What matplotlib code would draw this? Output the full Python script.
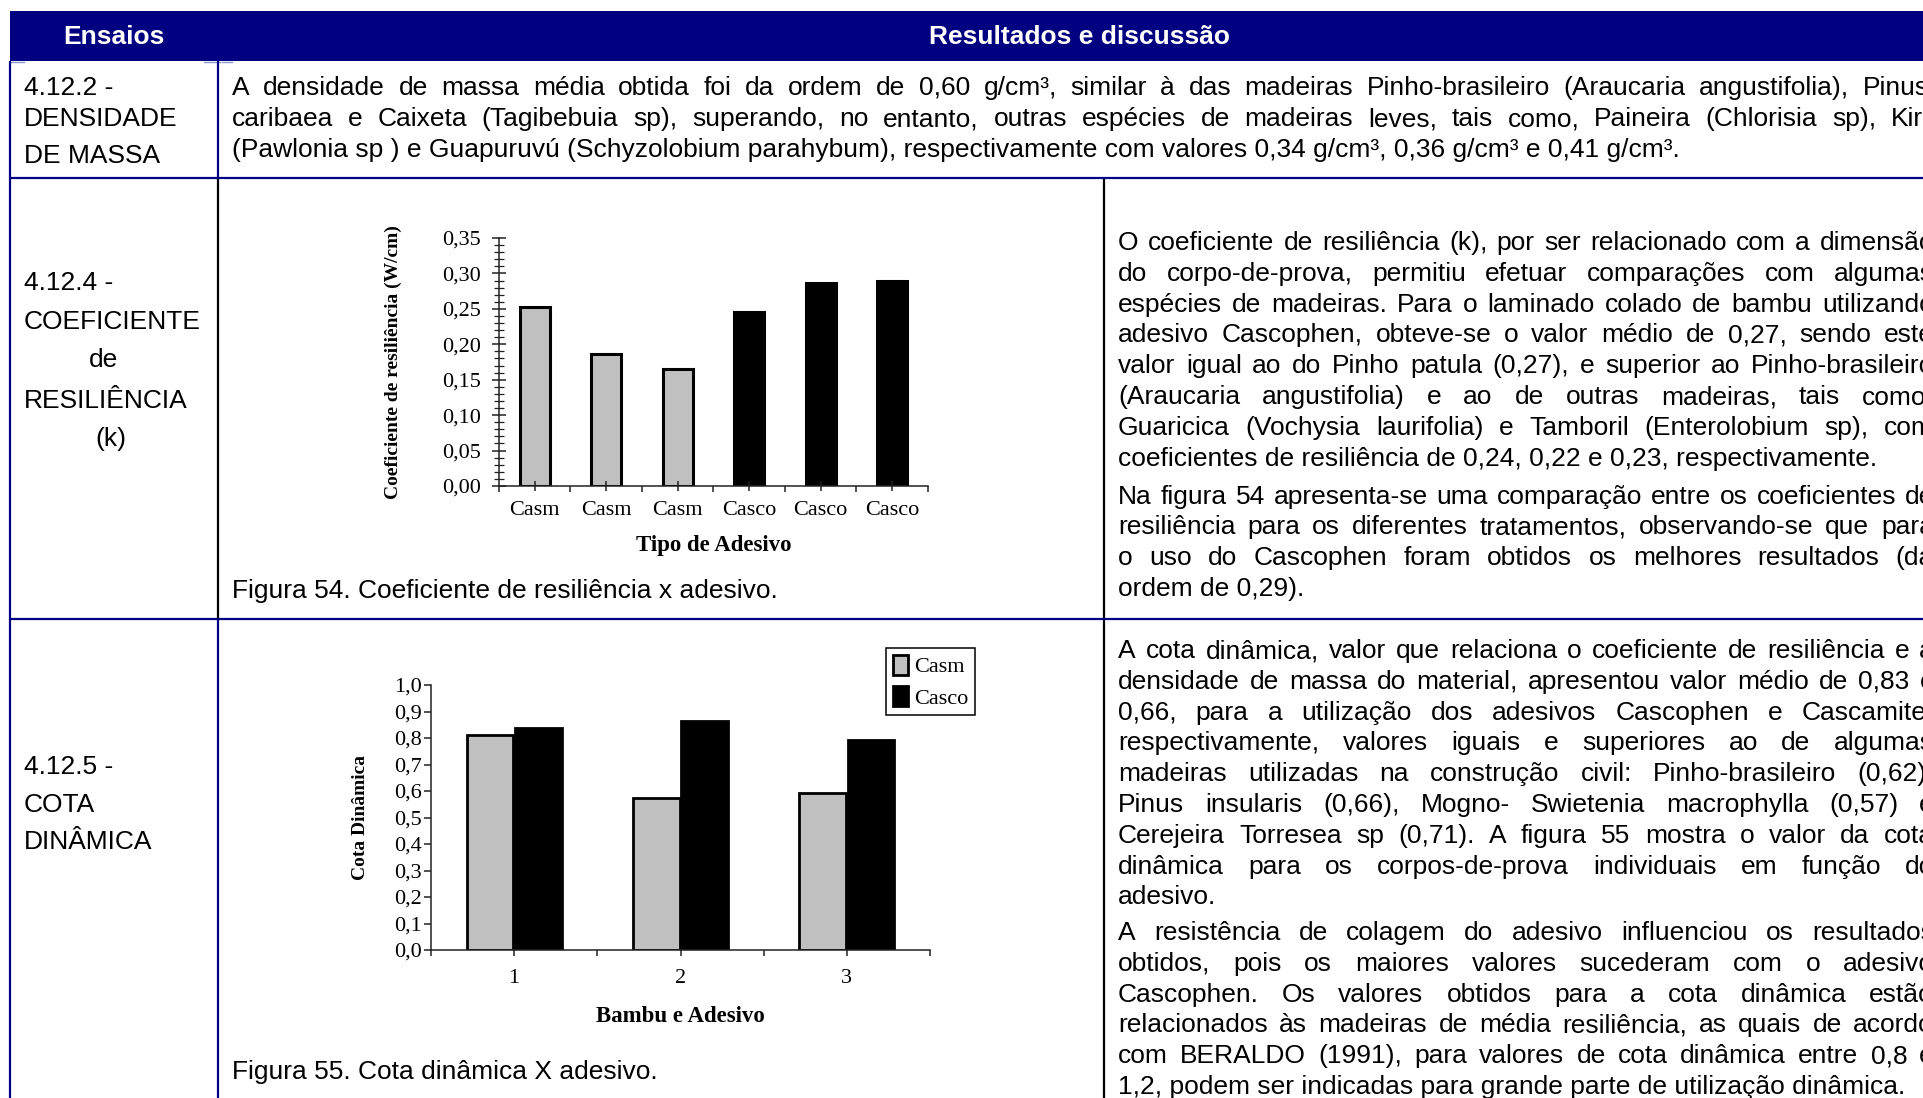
import matplotlib
matplotlib.use('Agg')
import matplotlib.pyplot as plt
from matplotlib.patches import Rectangle
from matplotlib.ticker import MultipleLocator, FuncFormatter
import numpy as np

# ---------------- data ----------------
# Figura 54: coeficiente de resiliencia por tipo de adesivo
adesivo_tipos = ['Casm', 'Casm', 'Casm', 'Casco', 'Casco', 'Casco']
coef_resiliencia = [0.253, 0.186, 0.165, 0.246, 0.287, 0.289]

# Figura 55: cota dinamica por bambu e adesivo
grupos = ['1', '2', '3']
cota_casm = [0.810, 0.572, 0.591]
cota_casco = [0.836, 0.863, 0.791]
serie_nomes = ['Casm', 'Casco']

header_labels = ['Ensaios', 'Resultados e discussão']

row1_left = ['4.12.2 -', 'DENSIDADE', 'DE MASSA']
row1_text = [
    'A densidade de massa média obtida foi da ordem de 0,60 g/cm³, similar à das madeiras Pinho-brasileiro (Araucaria angustifolia), Pinus',
    'caribaea e Caixeta (Tagibebuia sp), superando, no entanto, outras espécies de madeiras leves, tais como, Paineira (Chlorisia sp), Kiri',
    '(Pawlonia sp ) e Guapuruvú (Schyzolobium parahybum), respectivamente com valores 0,34 g/cm³, 0,36 g/cm³ e 0,41 g/cm³.',
]
row2_left = ['4.12.4 -', 'COEFICIENTE', 'de', 'RESILIÊNCIA', '(k)']
row2_p1 = [
    'O coeficiente de resiliência (k), por ser relacionado com a dimensão',
    'do corpo-de-prova, permitiu efetuar comparações com algumas',
    'espécies de madeiras. Para o laminado colado de bambu utilizando',
    'adesivo Cascophen, obteve-se o valor médio de 0,27, sendo este',
    'valor igual ao do Pinho patula (0,27), e superior ao Pinho-brasileiro',
    '(Araucaria angustifolia) e ao de outras madeiras, tais como,',
    'Guaricica (Vochysia laurifolia) e Tamboril (Enterolobium sp), com',
    'coeficientes de resiliência de 0,24, 0,22 e 0,23, respectivamente.',
]
row2_p2 = [
    'Na figura 54 apresenta-se uma comparação entre os coeficientes de',
    'resiliência para os diferentes tratamentos, observando-se que para',
    'o uso do Cascophen foram obtidos os melhores resultados (da',
    'ordem de 0,29).',
]
row3_left = ['4.12.5 -', 'COTA', 'DINÂMICA']
row3_p1 = [
    'A cota dinâmica, valor que relaciona o coeficiente de resiliência e a',
    'densidade de massa do material, apresentou valor médio de 0,83 e',
    '0,66, para a utilização dos adesivos Cascophen e Cascamite,',
    'respectivamente, valores iguais e superiores ao de algumas',
    'madeiras utilizadas na construção civil: Pinho-brasileiro (0,62),',
    'Pinus insularis (0,66), Mogno- Swietenia macrophylla (0,57) e',
    'Cerejeira Torresea sp (0,71). A figura 55 mostra o valor da cota',
    'dinâmica para os corpos-de-prova individuais em função do',
    'adesivo.',
]
row3_p2 = [
    'A resistência de colagem do adesivo influenciou os resultados',
    'obtidos, pois os maiores valores sucederam com o adesivo',
    'Cascophen. Os valores obtidos para a cota dinâmica estão',
    'relacionados às madeiras de média resiliência, as quais de acordo',
    'com BERALDO (1991), para valores de cota dinâmica entre 0,8 e',
    '1,2, podem ser indicadas para grande parte de utilização dinâmica.',
]
caption54 = 'Figura 54. Coeficiente de resiliência x adesivo.'
caption55 = 'Figura 55. Cota dinâmica X adesivo.'

# ---------------- styling ----------------
W, H = 1924, 1098
NAVY = '#000080'
GRAY = '#c0c0c0'
SANS = ['Liberation Sans', 'DejaVu Sans']
SERIF = ['Liberation Serif', 'DejaVu Serif']
FS = 19
LW = 1.6
TICKFS = 16

fig = plt.figure(figsize=(W / 100, H / 100), dpi=100)
ov = fig.add_axes([0, 0, 1, 1])
ov.set_xlim(0, W)
ov.set_ylim(H, 0)
ov.axis('off')
renderer = fig.canvas.get_renderer()

# header
ov.add_patch(Rectangle((10, 11), W - 10, 50, facecolor=NAVY, edgecolor='none'))
ov.text(114, 37, header_labels[0], color='white', fontsize=FS, fontweight='bold',
        family=SANS, ha='center', va='center')
ov.text(1080, 37, header_labels[1], color='white', fontsize=FS, fontweight='bold',
        family=SANS, ha='center', va='center')
for xa, xb in [(10, 24), (204, 220), (222, 232)]:
    ov.plot([xa, xb], [61.5, 61.5], color='#8a98cc', lw=1)

# table lines
def vline(x, y1, y2, c):
    ov.plot([x, x], [y1, y2], color=c, lw=LW, solid_capstyle='butt')

def hline(y, x1, x2, c):
    ov.plot([x1, x2], [y, y], color=c, lw=LW, solid_capstyle='butt')

vline(10, 61, H, NAVY)
vline(218, 61, 178, NAVY)
vline(218, 178, 619, 'black')
vline(218, 619, H, NAVY)
vline(1104, 178, H, 'black')
hline(178, 10, W, NAVY)
hline(619, 10, W, NAVY)

# text helpers
def text_line(x, y, s, ha='left'):
    return ov.text(x, y, s, fontsize=FS, family=SANS, ha=ha, va='baseline', color='black')

def paragraph(lines, x0, R, y0, dy):
    for i, line in enumerate(lines):
        y = y0 + i * dy
        if i == len(lines) - 1:
            text_line(x0, y, line)
            continue
        words = line.split(' ')
        ts = [text_line(0, y, w) for w in words]
        ws = [t.get_window_extent(renderer).width for t in ts]
        gap = (R - x0 - sum(ws)) / (len(words) - 1)
        x = x0
        for t, w in zip(ts, ws):
            t.set_x(x)
            x += w + gap

B = 9  # baseline offset from visual line centre
# row 1
for s, yc in zip(row1_left, [86, 117, 154]):
    text_line(24, yc + B, s)
paragraph(row1_text, 232, 1929, 86 + B, 31)
# row 2
for s, yc, xc in zip(row2_left, [281, 320, 358, 399, 437], [None, None, 104, None, 111]):
    if xc is None:
        text_line(24, yc + B, s)
    else:
        text_line(xc, yc + B, s, ha='center')
paragraph(row2_p1, 1118, 1934, 241 + B, 30.8)
paragraph(row2_p2, 1118, 1934, 494.6 + B, 30.8)
text_line(232, 589 + B, caption54)
# row 3
for s, yc in zip(row3_left, [765, 803, 840]):
    text_line(24, yc + B, s)
paragraph(row3_p1, 1118, 1934, 649 + B, 30.8)
paragraph(row3_p2, 1118, 1934, 931 + B, 30.8)
text_line(232, 1070 + B, caption55)

comma2 = FuncFormatter(lambda v, p: f'{v:.2f}'.replace('.', ','))
comma1 = FuncFormatter(lambda v, p: f'{v:.1f}'.replace('.', ','))

def fig_axes(x0, x1, ytop, ybot):
    a = fig.add_axes([x0 / W, 1 - ybot / H, (x1 - x0) / W, (ybot - ytop) / H])
    a.patch.set_alpha(0)
    for sp in ['top', 'right']:
        a.spines[sp].set_visible(False)
    for sp in ['left', 'bottom']:
        a.spines[sp].set_linewidth(1.1)
        a.spines[sp].set_color('#222222')
    return a

# ---------------- Figura 54 ----------------
ax1 = fig_axes(499, 928, 238, 486)
x1 = np.arange(len(adesivo_tipos))
cols1 = [GRAY if t == 'Casm' else 'black' for t in adesivo_tipos]
ax1.bar(x1, coef_resiliencia, width=0.42, color=cols1, edgecolor='black', linewidth=2.2)
ax1.set_xlim(-0.5, len(adesivo_tipos) - 0.5)
ax1.set_ylim(0, 0.35)
ax1.yaxis.set_major_locator(MultipleLocator(0.05))
ax1.yaxis.set_minor_locator(MultipleLocator(0.01))
ax1.yaxis.set_major_formatter(comma2)
ax1.tick_params(axis='y', which='major', direction='inout', length=10, width=1.1,
                pad=8, labelsize=TICKFS, color='#222222')
ax1.tick_params(axis='y', which='minor', direction='inout', length=7, width=0.9, color='#222222')
ax1.set_xticks(x1)
ax1.set_xticklabels(adesivo_tipos)
ax1.set_xticks(np.arange(-0.5, len(adesivo_tipos), 1), minor=True)
ax1.tick_params(axis='x', which='major', direction='inout', length=7, width=1.1,
                pad=7, labelsize=TICKFS, color='#222222')
ax1.tick_params(axis='x', which='minor', direction='out', length=4.5, width=1.1, color='#222222')
for lab in ax1.get_xticklabels() + ax1.get_yticklabels():
    lab.set_family(SERIF)
ax1.set_xlabel('Tipo de Adesivo', fontsize=16.5, fontweight='bold', family=SERIF)
ax1.xaxis.set_label_coords(0.5, (486 - 545) / 248)
ax1.xaxis.label.set_va('center')
ax1.set_ylabel('Coeficiente de resiliência (W/cm)', fontsize=14, fontweight='bold', family=SERIF)
ax1.yaxis.set_label_coords((393 - 499) / 429, 0.5)
ax1.yaxis.label.set_va('center')

# ---------------- Figura 55 ----------------
ax2 = fig_axes(431, 930, 685, 950)
x2 = np.arange(len(grupos))
bw = 0.28
off = 0.146
ax2.bar(x2 - off, cota_casm, width=bw, color=GRAY, edgecolor='black', linewidth=2.0,
        label=serie_nomes[0])
ax2.bar(x2 + off, cota_casco, width=bw, color='black', edgecolor='black', linewidth=2.0,
        label=serie_nomes[1])
ax2.set_xlim(-0.5, len(grupos) - 0.5)
ax2.set_ylim(0, 1.0)
ax2.yaxis.set_major_locator(MultipleLocator(0.1))
ax2.yaxis.set_major_formatter(comma1)
ax2.tick_params(axis='y', which='major', direction='out', length=5, width=1.1,
                pad=1.5, labelsize=TICKFS, color='#222222')
ax2.set_xticks(x2)
ax2.set_xticklabels(grupos)
ax2.set_xticks(np.arange(-0.5, len(grupos), 1), minor=True)
ax2.tick_params(axis='x', which='both', direction='out', length=4.5, width=1.1,
                pad=9, labelsize=TICKFS, color='#222222')
for lab in ax2.get_xticklabels() + ax2.get_yticklabels():
    lab.set_family(SERIF)
ax2.set_xlabel('Bambu e Adesivo', fontsize=16.5, fontweight='bold', family=SERIF)
ax2.xaxis.set_label_coords(0.5, (950 - 1017) / 265)
ax2.xaxis.label.set_va('center')
ax2.set_ylabel('Cota Dinâmica', fontsize=14, fontweight='bold', family=SERIF)
ax2.yaxis.set_label_coords((361 - 431) / 499, 0.5)
ax2.yaxis.label.set_va('center')
leg = ax2.legend(loc='upper left', bbox_to_anchor=(886 / W, 1 - 648 / H),
                 bbox_transform=fig.transFigure, borderaxespad=0,
                 prop={'family': SERIF, 'size': TICKFS}, frameon=True, fancybox=False,
                 edgecolor='black', framealpha=1, borderpad=0.3, handlelength=0.7,
                 handleheight=1.0, handletextpad=0.25, labelspacing=0.4)
leg.get_frame().set_linewidth(1.1)

fig.savefig('out.png', dpi=100)
